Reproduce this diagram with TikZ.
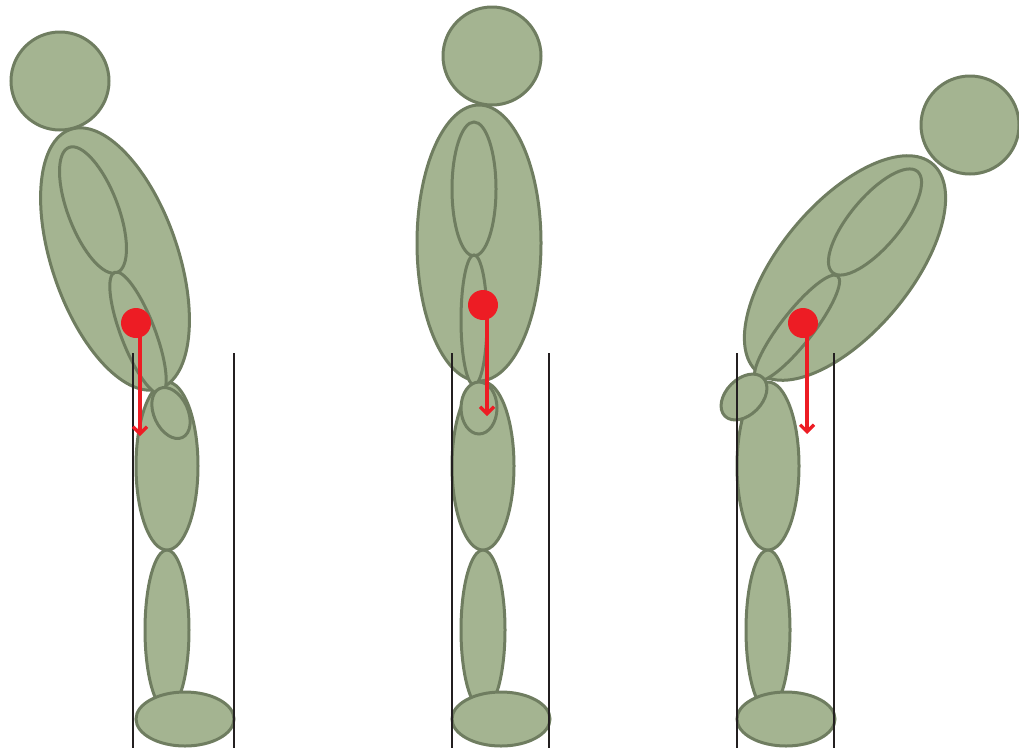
\documentclass[tikz,border=0pt]{standalone}
\usetikzlibrary{arrows.meta}
\definecolor{bodyfill}{HTML}{A4B491}
\definecolor{bodyline}{HTML}{6F7D60}
\definecolor{cogred}{HTML}{ED1C24}
\definecolor{guide}{HTML}{231F20}
\tikzset{
  limb/.style={fill=bodyfill, draw=bodyline, line width=3pt},
  guideline/.style={draw=guide, line width=1.5pt},
  cogdot/.style={circle, fill=cogred, inner sep=0pt, minimum size=30pt},
  cogarrow/.style={draw=cogred, line width=3.2pt, -{Straight Barb[length=7pt,width=14pt]}}
}
\begin{document}
\begin{tikzpicture}[x=1pt,y=-1pt]
\useasboundingbox (0,0) rectangle (1019,753);

% ---------- bending forward from the hips ----------
\draw[limb] (167,630) ellipse [x radius=22, y radius=80];
\draw[limb] (167,466) ellipse [x radius=31, y radius=84];
\draw[limb] (185,719) ellipse [x radius=49, y radius=27];
\draw[limb] (60,81) circle [radius=49];
\draw[limb, rotate around={19:(115,259)}] (115,259) ellipse [x radius=63, y radius=137];
\draw[limb, rotate around={21:(93,210)}] (93,210) ellipse [x radius=25, y radius=67];
\draw[limb, rotate around={21:(138,333)}] (138,333) ellipse [x radius=17, y radius=65];
\draw[limb, rotate around={25:(171,413)}] (171,413) ellipse [x radius=17, y radius=27];
\coordinate (l1a) at (133,353); \coordinate (l1b) at (133,748);
\coordinate (l2a) at (234,353); \coordinate (l2b) at (234,748);
\draw[guideline] (l1a) -- (l1b);
\draw[guideline] (l2a) -- (l2b);
\node[cogdot] (cogA) at (136,323) {};
\coordinate (endA) at (140,436);
\draw[cogarrow] (cogA.center -| endA) ++(0,8) -- (endA);

% ---------- upright posture ----------
\draw[limb] (483,630) ellipse [x radius=22, y radius=80];
\draw[limb] (483,466) ellipse [x radius=31, y radius=84];
\draw[limb] (501,719) ellipse [x radius=49, y radius=27];
\draw[limb] (492,56) circle [radius=49];
\draw[limb] (479,243) ellipse [x radius=62, y radius=138];
\draw[limb] (474,189) ellipse [x radius=22, y radius=67];
\draw[limb] (474,320) ellipse [x radius=13, y radius=65];
\draw[limb] (479,408) ellipse [x radius=18, y radius=26];
\coordinate (m1a) at (452,353); \coordinate (m1b) at (452,748);
\coordinate (m2a) at (549,353); \coordinate (m2b) at (549,748);
\draw[guideline] (m1a) -- (m1b);
\draw[guideline] (m2a) -- (m2b);
\node[cogdot] (cogB) at (483,305) {};
\coordinate (endB) at (487,416);
\draw[cogarrow] (cogB.center -| endB) ++(0,8) -- (endB);

% ---------- leaning far forward ----------
\draw[limb] (768,630) ellipse [x radius=22, y radius=80];
\draw[limb] (768,466) ellipse [x radius=31, y radius=84];
\draw[limb] (786,719) ellipse [x radius=49, y radius=27];
\draw[limb] (970,125) circle [radius=49];
\draw[limb, rotate around={-40:(845,268)}] (845,268) ellipse [x radius=65, y radius=136];
\draw[limb, rotate around={-40:(875,222)}] (875,222) ellipse [x radius=25, y radius=66];
\draw[limb, rotate around={-38:(797,328)}] (797,328) ellipse [x radius=16, y radius=66];
\draw[limb, rotate around={45:(744,397)}] (744,397) ellipse [x radius=27, y radius=18];
\coordinate (r1a) at (737,353); \coordinate (r1b) at (737,748);
\coordinate (r2a) at (834,353); \coordinate (r2b) at (834,748);
\draw[guideline] (r1a) -- (r1b);
\draw[guideline] (r2a) -- (r2b);
\node[cogdot] (cogC) at (803,323) {};
\coordinate (endC) at (807,434);
\draw[cogarrow] (cogC.center -| endC) ++(0,8) -- (endC);
\end{tikzpicture}
\end{document}
